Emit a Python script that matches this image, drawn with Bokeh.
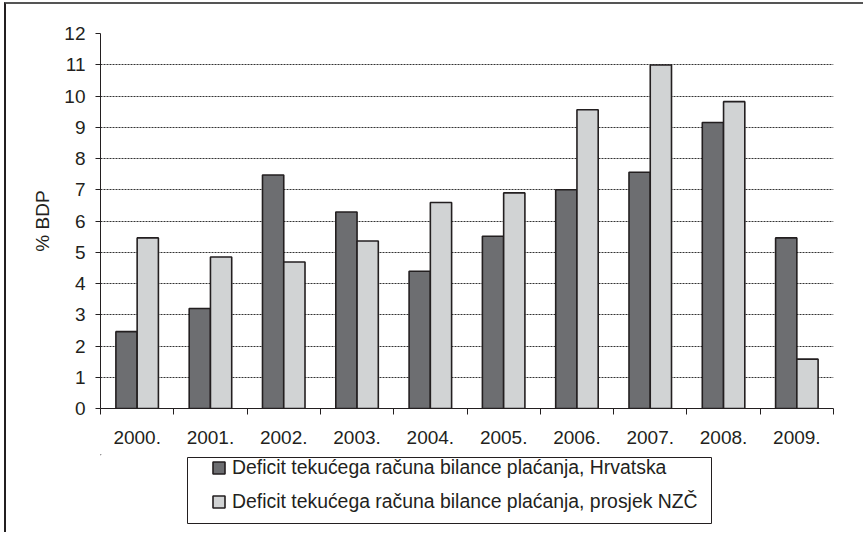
import numpy as np
from bokeh.plotting import figure
from bokeh.layouts import column
from bokeh.models import Range1d, FixedTicker, Legend, LegendItem
from bokeh.embed import file_html
from bokeh.resources import INLINE

years = ["2000.", "2001.", "2002.", "2003.", "2004.", "2005.", "2006.", "2007.", "2008.", "2009."]
hrvatska = [2.46, 3.2, 7.47, 6.29, 4.39, 5.51, 7.0, 7.56, 9.15, 5.46]
prosjek_nzc = [5.46, 4.85, 4.69, 5.36, 6.59, 6.9, 9.56, 10.99, 9.82, 1.58]
y_ticks = list(range(0, 13))
legend_labels = [
    "Deficit teku\u0107ega ra\u010duna bilance pla\u0107anja, Hrvatska",
    "Deficit teku\u0107ega ra\u010duna bilance pla\u0107anja, prosjek NZ\u010c",
]
y_label = "% BDP"

FONT = "Liberation Sans"
INK = "#231f20"
DARK = "#6d6e71"
LIGHT = "#d1d3d4"

W = 857
HA, HB = 450, 78
FRAME_W = W - 94 - 30

# ---------------- chart ----------------
p = figure(width=W, height=HA, x_range=Range1d(0, len(years)), y_range=Range1d(0, 12),
           output_backend="svg", toolbar_location=None,
           min_border_left=94, min_border_right=30, min_border_top=29, min_border_bottom=46)
p.outline_line_color = None
p.background_fill_color = "white"
p.border_fill_color = "white"

centers = np.arange(len(years)) + 0.5
bw = 0.29
p.vbar(x=centers - bw / 2, top=hrvatska, width=bw, bottom=0,
       fill_color=DARK, line_color=INK, line_width=1.6)
p.vbar(x=centers + bw / 2, top=prosjek_nzc, width=bw, bottom=0,
       fill_color=LIGHT, line_color=INK, line_width=1.6)

p.xaxis.ticker = FixedTicker(ticks=list(centers), minor_ticks=list(range(0, len(years) + 1)))
p.xaxis.major_label_overrides = {float(c): y for c, y in zip(centers, years)}
p.xaxis.major_tick_line_color = None
p.xaxis.major_tick_out = 0
p.xaxis.major_tick_in = 0
p.xaxis.minor_tick_line_color = INK
p.xaxis.minor_tick_out = 6
p.xaxis.minor_tick_in = 0
p.xaxis.major_label_standoff = 16

p.yaxis.ticker = FixedTicker(ticks=y_ticks, minor_ticks=[])
p.yaxis.major_tick_out = 5
p.yaxis.major_tick_in = 0
p.yaxis.major_tick_line_color = INK
p.yaxis.major_label_standoff = 10
p.yaxis.axis_label = y_label
p.yaxis.axis_label_standoff = 8
p.yaxis.axis_label_text_font = FONT
p.yaxis.axis_label_text_font_size = "19px"
p.yaxis.axis_label_text_font_style = "normal"
p.yaxis.axis_label_text_color = INK

for ax in (p.xaxis, p.yaxis):
    ax.axis_line_color = INK
    ax.axis_line_width = 1
    ax.major_label_text_font = FONT
    ax.major_label_text_font_size = "19px"
    ax.major_label_text_color = INK

p.xgrid.visible = False
p.ygrid.grid_line_color = "#333333"
p.ygrid.grid_line_dash = "2 1"
p.ygrid.grid_line_width = 1

# ---------------- legend strip (frame aligned with the chart frame) ----------------
q = figure(width=W, height=HB, x_range=Range1d(0, FRAME_W), y_range=Range1d(HB, 0),
           output_backend="svg", toolbar_location=None,
           x_axis_type=None, y_axis_type=None, min_border=0)
q.outline_line_color = None
q.xgrid.visible = False
q.ygrid.visible = False
q.background_fill_color = "white"
q.border_fill_color = "white"

# legend frame
q.quad(left=[87], right=[611], top=[3], bottom=[69],
       fill_color=None, line_color=INK, line_width=1)

# legend swatches (dummy renderers placed far outside the visible range)
d1 = q.vbar(x=[-5000], top=[-5000], bottom=[-5001], width=1,
            fill_color=DARK, line_color=INK, line_width=1.6)
d2 = q.vbar(x=[-5000], top=[-5000], bottom=[-5001], width=1,
            fill_color=LIGHT, line_color=INK, line_width=1.6)

legend = Legend(items=[LegendItem(label=legend_labels[0], renderers=[d1]),
                       LegendItem(label=legend_labels[1], renderers=[d2])],
                location=(111, 19))
legend.label_text_font = FONT
legend.label_text_font_size = "19.4px"
legend.label_text_color = INK
legend.glyph_width = 15
legend.glyph_height = 15
legend.label_height = 20
legend.spacing = 11
legend.padding = 0
legend.margin = 0
legend.label_standoff = 6
legend.border_line_color = None
legend.background_fill_alpha = 0
q.add_layout(legend)

layout = column(p, q, spacing=0)
layout.styles = {"margin-left": "4px", "margin-top": "2px",
                 "border-top": "2px solid #555555", "border-left": "2px solid #231f20"}

open("out.html", "w").write(file_html(layout, INLINE))
